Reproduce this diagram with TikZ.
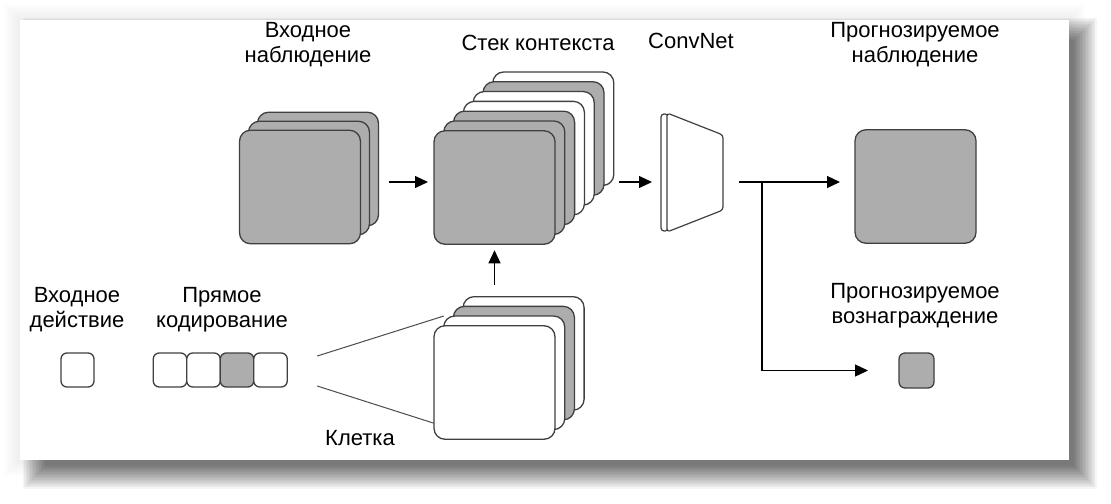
\documentclass[tikz,border=0pt]{standalone}
\usepackage{fontspec}
\setmainfont{Liberation Sans}
\usetikzlibrary{arrows.meta,positioning,calc}
\definecolor{cardgray}{HTML}{ADADAD}
\tikzset{
  card/.style={rectangle, rounded corners=5.5pt, draw=black!75, line width=0.65pt,
    fill=white, inner sep=0pt, outer sep=0pt, minimum width=60.5pt, minimum height=56.75pt},
  chip/.style={card, rounded corners=3pt, minimum width=16.75pt, minimum height=17pt},
  lbl/.style={font=\fontsize{11}{12.5}\selectfont, align=center, inner sep=0pt},
  flow/.style={-{Triangle[length=6.5pt, width=6pt]}, line width=0.6pt, draw=black},
  fan/.style={line width=0.5pt, draw=black!70},
  slab/.style={line width=0.6pt, draw=black!75, fill=white, rounded corners=1.5pt},
}

\begin{document}
\begin{tikzpicture}[x=0.5pt, y=-0.5pt]
  \fill[white] (0,0) rectangle (1111,503);
  \useasboundingbox (0,0) rectangle (1111,503);
  \foreach \k in {1,...,8} \fill[black, opacity=0.006] ({20-2*\k},{20-2*\k}) rectangle ({1069+2*\k},{460+2*\k});
  \foreach \k in {0,...,15} \fill[black, opacity=0.04] ({45-1.5*\k},{40-1.5*\k}) rectangle ({1074+1.5*\k},{466+1.5*\k});
  \fill[white] (20,20) rectangle (1069,460);

  \foreach \i in {2,1,0} \node[card, fill=cardgray] (obs\i) at ({300+9*\i},{187-9*\i}) {};
  \foreach \i/\c in {6/white,5/cardgray,4/white,3/white,2/cardgray,1/cardgray,0/cardgray}
    \node[card, fill=\c] (ctx\i) at ({494.5+9.8*\i},{187.5-9.8*\i}) {};
  \foreach \i/\c in {3/white,2/cardgray,1/white,0/white}
    \node[card, fill=\c] (cage\i) at ({494.5+9.7*\i},{382.5-9.7*\i}) {};
  \node[card, fill=cardgray] (pobs) at (915.5,186.5) {};
  \node[chip, minimum width=17.5pt, minimum height=17.5pt, fill=cardgray] (rew) at (916.5,370.5) {};
  \node[chip, minimum width=16.5pt] (act) at (77.5,370) {};
  \node[chip] (hot1) at (170,370) {};
  \node[chip, right=0pt of hot1] (hot2) {};
  \node[chip, right=0pt of hot2, fill=cardgray] (hot3) {};
  \node[chip, right=0pt of hot3] (hot4) {};

  \node[inner sep=0pt, outer sep=0pt, minimum width=31pt, minimum height=59.5pt] (conv) at (692,172.5) {};
  \draw[slab] (661,114) rectangle (668,231);
  \draw[slab] (667,113) -- (723,135) -- (723,210) -- (667,232) -- cycle;

  \node[lbl, anchor=north] (lobs) at (308,22) {Входное\\наблюдение};
  \node[lbl, anchor=base] (lctx) at (538,50) {Стек контекста};
  \node[lbl, anchor=base] (lconv) at (691,48) {ConvNet};
  \node[lbl, anchor=north] (lpobs) at (915,22) {Прогнозируемое\\наблюдение};
  \node[lbl, anchor=north] (lact) at (77,287) {Входное\\действие};
  \node[lbl, anchor=north] (lhot) at (222,287) {Прямое\\кодирование};
  \node[lbl, anchor=north] (lrew) at (915,283) {Прогнозируемое\\вознаграждение};
  \node[lbl, anchor=base] (lcage) at (360,445) {Клетка};

  \coordinate (row) at (0,182);
  \coordinate (fork) at ($(conv.east |- row)+(39,0)$);
  \draw[flow] ($(obs2.east |- row)+(10,0)$) -- ($(ctx0.west |- row)+(-6,0)$);
  \draw[flow] ($(ctx6.east |- row)+(5,0)$) -- ($(conv.west |- row)+(-9,0)$);
  \draw[flow] ($(conv.east |- row)+(16,0)$) -- ($(pobs.west |- row)+(-15,0)$);
  \draw[flow] (fork) |- ($(rew.west)+(-31,0)$);
  \draw[flow] ($(cage0.north |- cage3.north)+(0,-12)$) -- ($(ctx0.south)+(0,6)$);
  \draw[fan] ($(hot4.east)+(30,-14)$) -- (cage1.north west);
  \draw[fan] ($(hot4.east)+(30,16)$) -- ($(cage0.south west)+(0,-16)$);
\end{tikzpicture}
\end{document}
